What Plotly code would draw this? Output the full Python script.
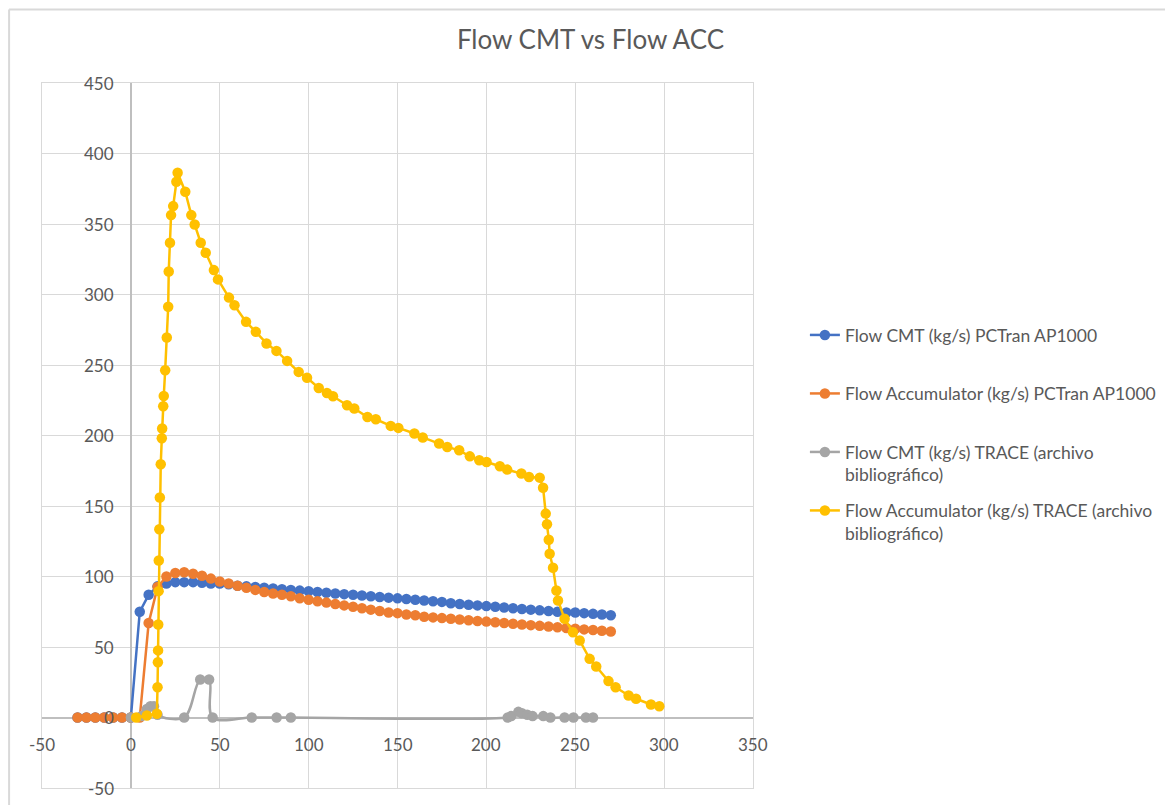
import plotly.graph_objects as go

# PCTran AP1000 series (t in s, flow in kg/s)
t_pctran = [-30, -25, -20, -15, -10, -5, 0, 5, 10, 15, 20, 25, 30, 35, 40, 45, 50,
            55, 60, 65, 70, 75, 80, 85, 90, 95, 100, 105, 110, 115, 120, 125, 130,
            135, 140, 145, 150, 155, 160, 165, 170, 175, 180, 185, 190, 195, 200,
            205, 210, 215, 220, 225, 230, 235, 240, 245, 250, 255, 260, 265, 270]
cmt_pctran = [0, 0, 0, 0, 0, 0, 0, 75, 87, 93, 95, 96, 96, 96, 95.5, 95, 95,
              94.5, 93.5, 93, 92.5, 92, 91.5, 91, 90.5, 90, 89.5, 89, 88.5, 88, 87.5, 87, 86.5,
              86, 85.5, 85, 84.5, 84, 83.5, 83, 82.5, 82, 81, 80.5, 80, 79.5, 79,
              78.5, 78, 77.5, 77, 76.5, 76, 75.5, 75, 74.5, 74.5, 74, 73.5, 73, 72.5]
acc_pctran = [0, 0, 0, 0, 0, 0, 0, 0, 67, 92.5, 100, 102.5, 103, 102, 100.5, 98.5, 96.5,
              95, 93.5, 92, 90.5, 89, 88, 87, 86, 84.5, 83.5, 82.5, 81.5, 80.5, 79.5, 78.5, 77.5,
              76.5, 75.5, 74.5, 74, 73, 72.5, 71.5, 71, 70.5, 70, 69.5, 69, 68.5, 68,
              67.5, 67, 66.5, 66, 65.5, 65, 64.5, 64, 63.5, 63, 62.5, 62, 61.5, 61]

# TRACE (archivo bibliografico)
t_cmt_trace = [0, 6, 9, 11, 13, 15, 30, 39, 44, 46, 68, 82, 90,
               212, 214, 218, 220, 223, 226, 232, 236, 244, 249, 256, 260]
cmt_trace = [0, 1, 6, 8, 8, 2, 0, 27, 27, 0, 0, 0, 0,
             0, 1, 4, 3, 2, 1, 1, 0, 0, 0, 0, 0]

t_acc_trace = [3, 9, 14.6, 15, 15.2, 15.3, 15.4, 15.6, 15.7, 16, 16.3, 16.8, 17.4, 17.6,
               18.2, 18.5, 19.3, 20.2, 21, 21.3, 22, 22.6, 23.8, 25.6, 26.3, 30.6,
               34, 35.9, 39.3, 42.1, 46.7, 49, 55.2, 58.3, 64.8, 70.3, 76.3, 81.9,
               87.9, 94.4, 99.1, 105.7, 110.3, 113.7, 121.6, 125.7, 133.1, 137.8,
               146.2, 150.5, 159.5, 164.2, 173.4, 178, 184.7, 190.7, 196, 200.1,
               207.6, 211.7, 219.7, 224, 230, 231.9, 233.4, 234.1, 235.1, 235.6,
               237.5, 239.4, 240.3, 244, 248.7, 252.5, 258.1, 261.8, 268.7, 272.7,
               280, 284.2, 292.6, 297.3]
acc_trace = [0, 1.4, 2.6, 21.5, 39.2, 47.6, 66, 89.6, 111.4, 133.5, 156, 179.6, 198, 205,
             220.7, 228, 246.3, 269.5, 291.3, 316.3, 336.7, 356.3, 362.7, 380, 386.3, 372.9,
             356.3, 349.6, 336.7, 329.6, 317.3, 310.7, 297.8, 292.4, 280.6, 273.5, 265.3, 260,
             252.9, 245.1, 240.9, 233.7, 230.2, 227.8, 221.5, 219.1, 213.1, 211.5,
             206.8, 205.4, 201.4, 198.6, 194.3, 191.9, 189.5, 185.2, 182.4, 181.2,
             178.2, 175.8, 173, 170.6, 170.1, 163, 144.6, 137, 126.1, 116.1,
             106.2, 90.1, 83, 70, 60.5, 54.6, 41.6, 36.2, 25.8, 21.5,
             15.6, 13.3, 9.2, 8]

x_ticks = [-50, 0, 50, 100, 150, 200, 250, 300, 350]
y_ticks = [-50, 0, 50, 100, 150, 200, 250, 300, 350, 400, 450]

names = ["Flow CMT (kg/s) PCTran AP1000<br> ",
         "Flow Accumulator (kg/s) PCTran AP1000<br> ",
         "Flow CMT (kg/s) TRACE (archivo<br>bibliográfico)",
         "Flow Accumulator (kg/s) TRACE (archivo<br>bibliográfico)"]
colors = ["#4472C4", "#ED7D31", "#A5A5A5", "#FFC000"]
series = [(t_pctran, cmt_pctran, "linear"), (t_pctran, acc_pctran, "linear"),
          (t_cmt_trace, cmt_trace, "spline"), (t_acc_trace, acc_trace, "linear")]

fig = go.Figure()
for i, (xs, ys, shape) in enumerate(series):
    fig.add_trace(go.Scatter(x=xs, y=ys, mode="lines+markers", name=names[i],
                             legendgroup="g" + str(i),
                             line=dict(color=colors[i], width=2.5, shape=shape),
                             marker=dict(color=colors[i], size=10.5)))

grid = "#d9d9d9"
fig.update_xaxes(range=[-50, 350], tickvals=x_ticks, showticklabels=False,
                 showgrid=True, gridcolor=grid, gridwidth=1,
                 zeroline=True, zerolinecolor="#bfbfbf", zerolinewidth=1.5,
                 showline=True, linecolor=grid, mirror=True)
fig.update_yaxes(range=[-50, 450], tickvals=y_ticks, showticklabels=False,
                 showgrid=True, gridcolor=grid, gridwidth=1,
                 zeroline=True, zerolinecolor="#bfbfbf", zerolinewidth=1.5,
                 showline=True, linecolor=grid, mirror=True)

# Excel-style tick labels sitting on the zero axes
for v in x_ticks:
    fig.add_annotation(x=v, y=0, xref="x", yref="y", text=str(v), showarrow=False,
                       yanchor="top", yshift=-14, font=dict(size=17, color="#595959"))
for v in y_ticks:
    fig.add_annotation(x=0, y=v, xref="x", yref="y", text=str(v), showarrow=False,
                       xanchor="right", xshift=-15, font=dict(size=17, color="#595959"))

# chart area frame (left and top edges visible)
fig.add_shape(type="line", xref="paper", yref="paper", x0=-0.0463, x1=1.6, y0=1.1043, y1=1.1043,
              line=dict(color=grid, width=2))
fig.add_shape(type="line", xref="paper", yref="paper", x0=-0.0463, x1=-0.0463, y0=-0.05, y1=1.1043,
              line=dict(color=grid, width=2))

fig.update_layout(
    width=1165, height=797,
    margin=dict(l=34, r=418, t=75, b=17),
    paper_bgcolor="white", plot_bgcolor="white",
    font=dict(family="Lato", size=17.5, color="#595959"),
    title=dict(text="Flow CMT vs Flow ACC", x=0.5, xanchor="center", xref="container",
               y=0.9598, yanchor="middle", yref="container",
               font=dict(size=26, color="#595959")),
    legend=dict(x=1.073, xanchor="left", y=0.668, yanchor="top", valign="top",
                tracegroupgap=10, font=dict(size=17.5, color="#595959"),
                bgcolor="rgba(0,0,0,0)"),
    showlegend=True,
)

fig.write_html("out.html")
